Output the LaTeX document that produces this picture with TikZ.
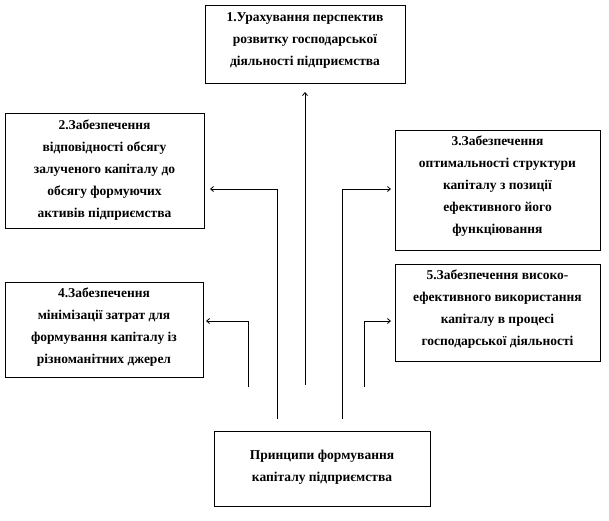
\documentclass[tikz,border=0pt]{standalone}
\usepackage{fontspec}
\setmainfont{Liberation Serif}
\usetikzlibrary{arrows.meta}
\begin{document}
\begin{tikzpicture}[x=1pt,y=-1pt,
  box/.style={draw,line width=0.8pt,align=center,font=\fontsize{13.5}{22}\selectfont\bfseries,inner sep=0pt},
  conn/.style={line width=0.8pt,-{Straight Barb[length=3pt,width=5pt]}}]
\useasboundingbox (0,0) rectangle (609,520);
\draw[box] (205,5) rectangle (405,83);
\node[box,draw=none] (b1) at (305,40) {1.Урахування перспектив\\розвитку господарської\\діяльності підприємства};
\draw[box] (5,113) rectangle (204,228);
\node[box,draw=none] (b2) at (104.5,170) {2.Забезпечення\\відповідності обсягу\\залученого капіталу до\\обсягу формуючих\\активів підприємства};
\draw[box] (395,130) rectangle (600,250);
\node[box,draw=none] (b3) at (497.5,186) {3.Забезпечення\\оптимальності структури\\капіталу з позиції\\ефективного його\\функціювання};
\draw[box] (5,282) rectangle (203,377);
\node[box,draw=none] (b4) at (104,327) {4.Забезпечення\\мінімізації затрат для\\формування капіталу із\\різноманітних джерел};
\draw[box] (395,264) rectangle (600,361);
\node[box,draw=none] (b5) at (497.5,309) {5.Забезпечення високо-\\ефективного використання\\капіталу в процесі\\господарської діяльності};
\draw[box] (214,431) rectangle (430,506);
\node[box,draw=none] (b0) at (322,467) {Принципи формування\\капіталу підприємства};
\coordinate (c1) at (305,385);
\coordinate (c2) at (277,419);
\coordinate (c3) at (342,419);
\coordinate (c4) at (248,387);
\coordinate (c5) at (364,387);
\draw[conn] (c1) -- (305,92);
\draw[conn] (c2) |- (210,189);
\draw[conn] (c3) |- (391,189);
\draw[conn] (c4) |- (206,321);
\draw[conn] (c5) |- (391,321);
\end{tikzpicture}
\end{document}
